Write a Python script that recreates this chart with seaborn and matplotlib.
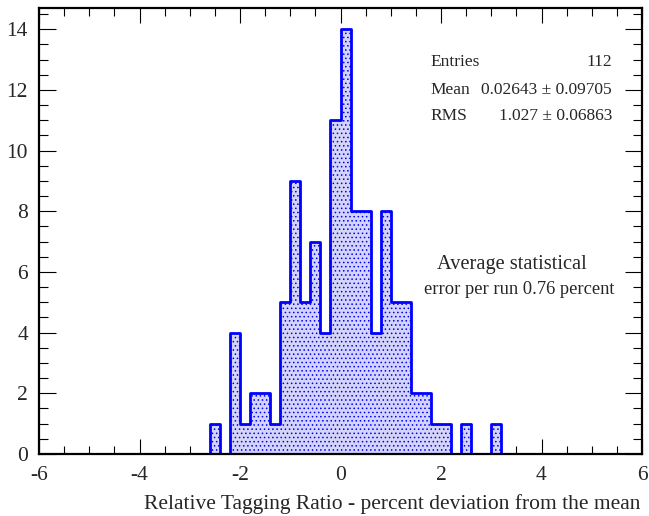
import numpy as np
import pandas as pd
import matplotlib
matplotlib.use("Agg")
import matplotlib.pyplot as plt
from matplotlib.ticker import MultipleLocator
import seaborn as sns

# -------- DATA --------
# 60 bins of width 0.2 from -6 to 6; only the filled bins are listed
x_min, x_max, n_bins = -6, 6, 60
bin_low = [-2.6, -2.2, -2.0, -1.8, -1.6, -1.4, -1.2, -1.0, -0.8, -0.6, -0.4, -0.2,
           0.0, 0.2, 0.4, 0.6, 0.8, 1.0, 1.2, 1.4, 1.6, 1.8, 2.0, 2.4, 3.0]
bin_count = [1, 4, 1, 2, 2, 1, 5, 9, 5, 7, 4, 11,
             14, 8, 8, 4, 8, 5, 5, 2, 2, 1, 1, 1, 1]

stats_labels = ["Entries", "Mean", "RMS"]
stats_values = ["112", "0.02643 \u00b1 0.09705", "1.027 \u00b1 0.06863"]
note_lines = ["Average statistical", "error per run 0.76 percent"]
x_label = "Relative Tagging Ratio - percent deviation from the mean"
# ----------------------

edges = np.linspace(x_min, x_max, n_bins + 1)
width = (x_max - x_min) / n_bins
centers = edges[:-1] + width / 2
weights = np.zeros(n_bins)
for lo, c in zip(bin_low, bin_count):
    weights[int(round((lo - x_min) / width))] = c
df = pd.DataFrame({"x": centers, "w": weights})

sns.set_style("ticks")
plt.rcParams["font.family"] = ["Liberation Serif", "DejaVu Serif"]
plt.rcParams["hatch.linewidth"] = 0.6
plt.rcParams["axes.unicode_minus"] = False

W, H = 649, 516
fig = plt.figure(figsize=(W / 100, H / 100), dpi=100)
ax = fig.add_axes([39 / W, 1 - 454 / H, (642 - 39) / W, (454 - 8) / H])

sns.histplot(data=df, x="x", weights="w", bins=n_bins, binrange=(x_min, x_max),
             element="step", fill=True,
             facecolor="#d4d4fa", edgecolor="#0000ff", linewidth=2, alpha=1,
             hatch="....", ax=ax)

ax.set_xlim(x_min, x_max)
ax.set_ylim(0, 14.7)
ax.xaxis.set_major_locator(MultipleLocator(2))
ax.xaxis.set_minor_locator(MultipleLocator(0.5))
ax.yaxis.set_major_locator(MultipleLocator(2))
ax.yaxis.set_minor_locator(MultipleLocator(0.5))
ax.tick_params(which="both", direction="in", top=True, right=True,
               color="black", labelsize=15.5, pad=8)
ax.tick_params(axis="x", which="major", length=11, width=0.8, pad=9)
ax.tick_params(axis="x", which="minor", length=5.5, width=0.8)
ax.tick_params(axis="y", which="major", length=12.5, width=0.8)
ax.tick_params(axis="y", which="minor", length=6.5, width=0.8)
for s in ax.spines.values():
    s.set_linewidth(1.6)
    s.set_color("black")
ax.set_xlabel("")
ax.set_ylabel("")

fig.text(640 / W, 1 - 509 / H, x_label, ha="right", va="baseline", fontsize=15.5)

for i, (lab, val) in enumerate(zip(stats_labels, stats_values)):
    yb = [66, 94, 120][i]
    fig.text(430 / W, 1 - yb / H, lab, ha="left", va="baseline", fontsize=12.5)
    fig.text(612 / W, 1 - yb / H, val, ha="right", va="baseline", fontsize=12.5)

fig.text(437 / W, 1 - 269 / H, note_lines[0], ha="left", va="baseline", fontsize=14.7)
fig.text(424 / W, 1 - 294 / H, note_lines[1], ha="left", va="baseline", fontsize=13.3)

fig.savefig("out.png", dpi=100)
